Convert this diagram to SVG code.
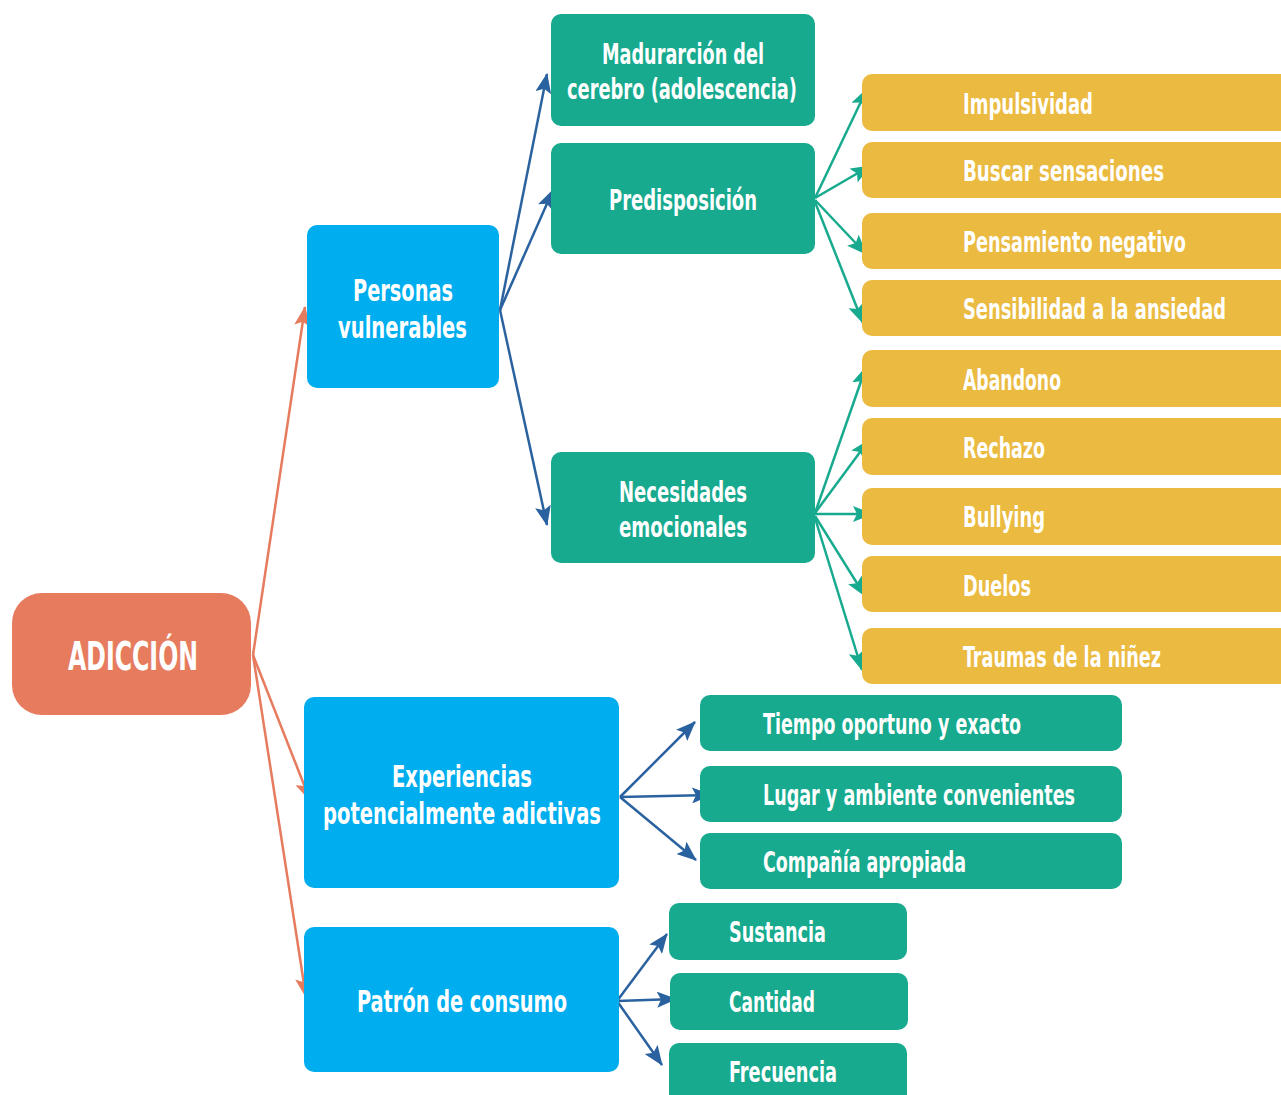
<svg xmlns="http://www.w3.org/2000/svg" width="1281" height="1095" viewBox="0 0 1281 1095">
<defs>
<style>
text{font-family:"DejaVu Sans Condensed","Liberation Sans",sans-serif;font-weight:bold;fill:#fff;font-stretch:condensed}
.c{text-anchor:middle}
.root{fill:#E67B5E}
.blue{fill:#00AEEF}
.green{fill:#17AA8E}
.yel{fill:#EABA41}
.t1{font-size:30px}
.t2{font-size:28px}
.lo{stroke:#E67B5E;stroke-width:2.5;fill:none}
.lb{stroke:#2A62A0;stroke-width:2.5;fill:none}
.lg{stroke:#17AA8E;stroke-width:2.5;fill:none}
</style>
<marker id="ao" viewBox="0 0 20 16" refX="19" refY="8" markerWidth="20" markerHeight="16" markerUnits="userSpaceOnUse" orient="auto"><path d="M0,0 L20,8 L0,16 L4,8 z" fill="#E67B5E"/></marker>
<marker id="ab" viewBox="0 0 20 16" refX="19" refY="8" markerWidth="20" markerHeight="16" markerUnits="userSpaceOnUse" orient="auto"><path d="M0,0 L20,8 L0,16 L4,8 z" fill="#2A62A0"/></marker>
<marker id="ag" viewBox="0 0 20 16" refX="19" refY="8" markerWidth="20" markerHeight="16" markerUnits="userSpaceOnUse" orient="auto"><path d="M0,0 L20,8 L0,16 L4,8 z" fill="#17AA8E"/></marker>
</defs>

<g id="connectors">
<path class="lo" marker-end="url(#ao)" d="M253,655 L305,307"/>
<path class="lo" marker-end="url(#ao)" d="M253,655 L310,800"/>
<path class="lo" marker-end="url(#ao)" d="M253,655 L306,997"/>
<path class="lb" marker-end="url(#ab)" d="M500,310 L547,74"/>
<path class="lb" marker-end="url(#ab)" d="M500,310 L553,190"/>
<path class="lb" marker-end="url(#ab)" d="M500,310 L547,525"/>
<path class="lg" marker-end="url(#ag)" d="M815,198 L867,89"/>
<path class="lg" marker-end="url(#ag)" d="M815,198 L870,166"/>
<path class="lg" marker-end="url(#ag)" d="M815,200 L866,254"/>
<path class="lg" marker-end="url(#ag)" d="M815,202 L863,323"/>
<path class="lg" marker-end="url(#ag)" d="M815,513 L866,367"/>
<path class="lg" marker-end="url(#ag)" d="M815,513 L869,440"/>
<path class="lg" marker-end="url(#ag)" d="M815,514 L872,514"/>
<path class="lg" marker-end="url(#ag)" d="M815,516 L865,596"/>
<path class="lg" marker-end="url(#ag)" d="M815,518 L862,670"/>
<path class="lb" marker-end="url(#ab)" d="M620,797 L695,722"/>
<path class="lb" marker-end="url(#ab)" d="M620,797 L711,795"/>
<path class="lb" marker-end="url(#ab)" d="M620,797 L696,860"/>
<path class="lb" marker-end="url(#ab)" d="M617,1001 L667,934"/>
<path class="lb" marker-end="url(#ab)" d="M617,1001 L676,999"/>
<path class="lb" marker-end="url(#ab)" d="M617,1001 L662,1065"/>
</g>

<g id="n-adiccion"><rect class="root" x="12" y="593" width="239" height="122" rx="30"/><text x="68" y="670" style="font-size:39px" textLength="130" lengthAdjust="spacingAndGlyphs">ADICCIÓN</text></g>

<g id="n-personas"><rect class="blue" x="307" y="225" width="192" height="163" rx="10"/><text class="t1" x="353" y="301" textLength="100" lengthAdjust="spacingAndGlyphs">Personas</text><text class="t1" x="338" y="338" textLength="129" lengthAdjust="spacingAndGlyphs">vulnerables</text></g>
<g id="n-experiencias"><rect class="blue" x="304" y="697" width="315" height="191" rx="10"/><text class="t1" x="392" y="787" textLength="140" lengthAdjust="spacingAndGlyphs">Experiencias</text><text class="t1" x="323" y="824" textLength="278" lengthAdjust="spacingAndGlyphs">potencialmente adictivas</text></g>
<g id="n-patron"><rect class="blue" x="304" y="927" width="315" height="145" rx="10"/><text class="t1" x="357" y="1012" textLength="210" lengthAdjust="spacingAndGlyphs">Patrón de consumo</text></g>

<g id="n-maduracion"><rect class="green" x="551" y="14" width="264" height="112" rx="10"/><text class="t2" x="602" y="64" textLength="162" lengthAdjust="spacingAndGlyphs">Madurarción del</text><text class="t2" x="567" y="99" textLength="230" lengthAdjust="spacingAndGlyphs">cerebro (adolescencia)</text></g>
<g id="n-predisposicion"><rect class="green" x="551" y="143" width="264" height="111" rx="10"/><text class="t2" x="609" y="210" textLength="148" lengthAdjust="spacingAndGlyphs">Predisposición</text></g>
<g id="n-necesidades"><rect class="green" x="551" y="452" width="264" height="111" rx="10"/><text class="t2" x="619" y="502" textLength="128" lengthAdjust="spacingAndGlyphs">Necesidades</text><text class="t2" x="619" y="537" textLength="128" lengthAdjust="spacingAndGlyphs">emocionales</text></g>

<g id="n-impulsividad"><rect class="yel" x="862" y="74" width="440" height="57" rx="10"/><text class="t2" x="963" y="114" textLength="130" lengthAdjust="spacingAndGlyphs">Impulsividad</text></g>
<g id="n-buscar"><rect class="yel" x="862" y="142" width="440" height="56" rx="10"/><text class="t2" x="963" y="181" textLength="201" lengthAdjust="spacingAndGlyphs">Buscar sensaciones</text></g>
<g id="n-pensamiento"><rect class="yel" x="862" y="213" width="440" height="56" rx="10"/><text class="t2" x="963" y="252" textLength="223" lengthAdjust="spacingAndGlyphs">Pensamiento negativo</text></g>
<g id="n-sensibilidad"><rect class="yel" x="862" y="280" width="440" height="56" rx="10"/><text class="t2" x="963" y="319" textLength="263" lengthAdjust="spacingAndGlyphs">Sensibilidad a la ansiedad</text></g>
<g id="n-abandono"><rect class="yel" x="862" y="350" width="440" height="57" rx="10"/><text class="t2" x="963" y="390" textLength="98" lengthAdjust="spacingAndGlyphs">Abandono</text></g>
<g id="n-rechazo"><rect class="yel" x="862" y="418" width="440" height="57" rx="10"/><text class="t2" x="963" y="458" textLength="82" lengthAdjust="spacingAndGlyphs">Rechazo</text></g>
<g id="n-bullying"><rect class="yel" x="862" y="488" width="440" height="57" rx="10"/><text class="t2" x="963" y="527" textLength="82" lengthAdjust="spacingAndGlyphs">Bullying</text></g>
<g id="n-duelos"><rect class="yel" x="862" y="556" width="440" height="56" rx="10"/><text class="t2" x="963" y="596" textLength="68" lengthAdjust="spacingAndGlyphs">Duelos</text></g>
<g id="n-traumas"><rect class="yel" x="862" y="628" width="440" height="56" rx="10"/><text class="t2" x="963" y="667" textLength="198" lengthAdjust="spacingAndGlyphs">Traumas de la niñez</text></g>

<g id="n-tiempo"><rect class="green" x="700" y="695" width="422" height="56" rx="10"/><text class="t2" x="763" y="734" textLength="258" lengthAdjust="spacingAndGlyphs">Tiempo oportuno y exacto</text></g>
<g id="n-lugar"><rect class="green" x="700" y="766" width="422" height="56" rx="10"/><text class="t2" x="763" y="805" textLength="312" lengthAdjust="spacingAndGlyphs">Lugar y ambiente convenientes</text></g>
<g id="n-compania"><rect class="green" x="700" y="833" width="422" height="56" rx="10"/><text class="t2" x="763" y="872" textLength="203" lengthAdjust="spacingAndGlyphs">Compañía apropiada</text></g>

<g id="n-sustancia"><rect class="green" x="669" y="903" width="238" height="57" rx="10"/><text class="t2" x="729" y="942" textLength="97" lengthAdjust="spacingAndGlyphs">Sustancia</text></g>
<g id="n-cantidad"><rect class="green" x="670" y="973" width="238" height="57" rx="10"/><text class="t2" x="729" y="1012" textLength="86" lengthAdjust="spacingAndGlyphs">Cantidad</text></g>
<g id="n-frecuencia"><rect class="green" x="669" y="1043" width="238" height="70" rx="10"/><text class="t2" x="729" y="1082" textLength="108" lengthAdjust="spacingAndGlyphs">Frecuencia</text></g>
</svg>
